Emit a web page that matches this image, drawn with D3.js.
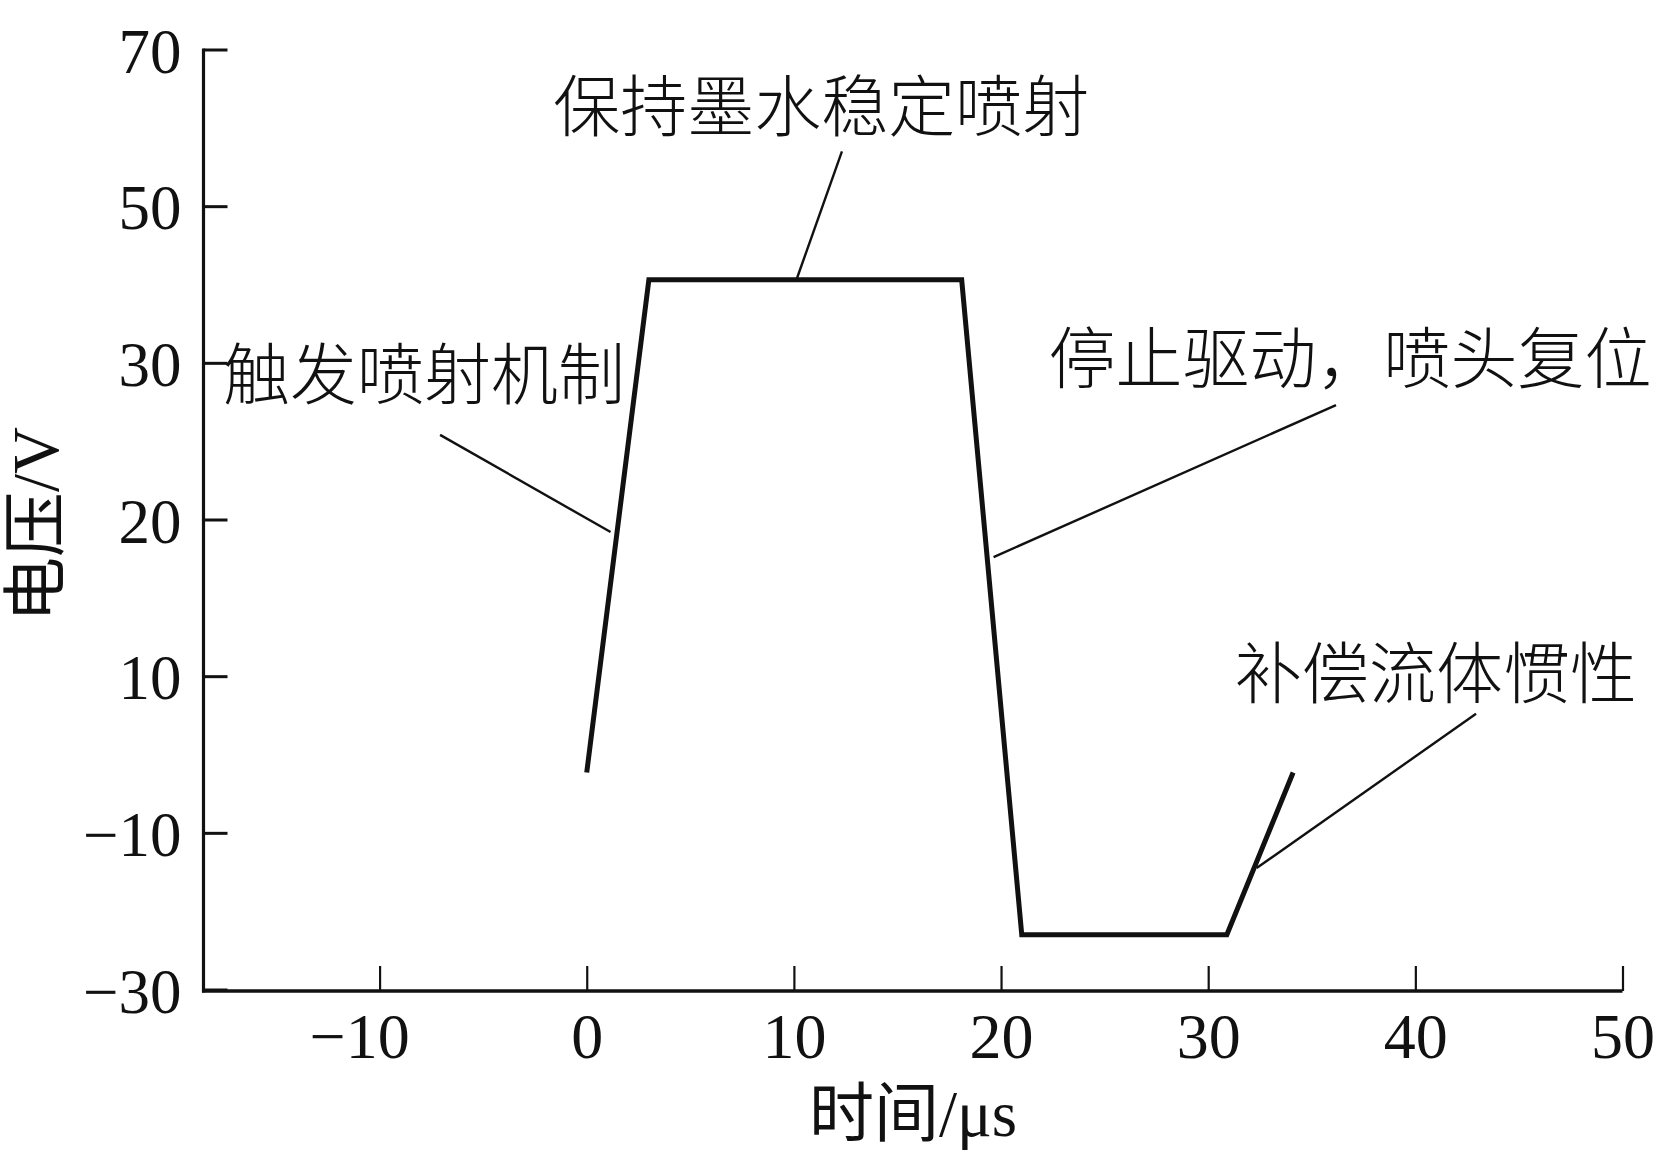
<!DOCTYPE html>
<html>
<head>
<meta charset="utf-8">
<script src="https://cdn.jsdelivr.net/npm/d3@7"></script>
<style>
  html, body { margin: 0; padding: 0; background: #fff; }
  svg { display: block; }
</style>
</head>
<body>
<svg id="chart" width="1654" height="1165"></svg>
<script>
// ---- data ----
const timeUs   = [0, 3, 18.1, 21, 30.9, 34.1];
const voltageV = [-2.3, 40.6, 40.6, -23, -23, -2.3];

const xTicks = [-10, 0, 10, 20, 30, 40, 50];
const yTicks = [-30, -10, 10, 20, 30, 50, 70];   // equally spaced on the axis

const xTitle = "时间/μs";
const yTitle = "电压/V";

// annotation texts, text anchor and leader line (data units)
const annoText  = ["保持墨水稳定喷射", "触发喷射机制", "停止驱动，喷头复位", "补偿流体惯性"];
const annoTextX = [11.32, -7.85, 36.85, 41.0];
const annoTextY = [63.3, 29.6, 31.25, 10.5];
const leadFromX = [12.32, -7.08, 36.17, 42.93];
const leadFromY = [57.0, 25.4, 27.3, 5.2];
const leadToX   = [10.15, 1.15, 19.64, 32.34];
const leadToY   = [40.8, 19.2, 17.6, -14.5];

// ---- layout ----
const svg = d3.select("#chart");
const pLeft = 203.5, pRight = 1622.5, pTop = 49.5, pBottom = 989.5;

const x = d3.scaleLinear().domain([-18.5, 50]).range([pLeft, pRight]);
const step = (pBottom - pTop) / (yTicks.length - 1);
const y = d3.scaleLinear()
  .domain(yTicks)
  .range(yTicks.map((d, i) => pBottom - i * step));

const numFont = "'Liberation Serif', 'Times New Roman', serif";
const cjkFont = "'Liberation Serif', 'Noto Sans CJK SC', serif";
const fmt = d => (d < 0 ? "\u2212" + Math.abs(d) : String(d));

// x axis
const gx = svg.append("g")
  .attr("transform", `translate(0,${pBottom + 1.5})`)
  .call(d3.axisBottom(x).tickValues(xTicks).tickFormat(fmt)
        .tickSizeInner(-25).tickSizeOuter(0).tickPadding(22));
gx.select(".domain").attr("stroke", "#111").attr("stroke-width", 3.5)
  .attr("d", `M${pLeft - 1.5},0H${pRight}`);
gx.selectAll(".tick line").attr("stroke", "#111").attr("stroke-width", 2.2);
gx.selectAll(".tick text").attr("font-family", numFont).attr("font-size", 64)
  .attr("fill", "#111")
  .attr("dx", d => (d < 0 ? "-0.32em" : null));

// y axis
const gy = svg.append("g")
  .attr("transform", `translate(${pLeft},0)`)
  .call(d3.axisLeft(y).tickValues(yTicks).tickFormat(fmt)
        .tickSizeInner(-24).tickSizeOuter(0).tickPadding(22));
gy.select(".domain").attr("stroke", "#111").attr("stroke-width", 3.2)
  .attr("d", `M0,${pTop - 1}V${pBottom + 3}`);
gy.selectAll(".tick line").attr("stroke", "#111").attr("stroke-width", 3);
gy.selectAll(".tick text").attr("font-family", numFont).attr("font-size", 63)
  .attr("fill", "#111").attr("dy", "0.36em");

// axis titles
svg.append("text")
  .attr("x", (pLeft + pRight) / 2).attr("y", 1136)
  .attr("text-anchor", "middle")
  .attr("font-family", cjkFont).attr("font-size", 65).attr("fill", "#111")
  .text(xTitle);

svg.append("text")
  .attr("transform", `translate(58,${(pTop + pBottom) / 2 + 5}) rotate(-90)`)
  .attr("text-anchor", "middle")
  .attr("font-family", cjkFont).attr("font-size", 65).attr("fill", "#111")
  .text(yTitle);

// data line
const pts = timeUs.map((t, i) => [t, voltageV[i]]);
svg.append("path")
  .datum(pts)
  .attr("fill", "none")
  .attr("stroke", "#111")
  .attr("stroke-width", 5)
  .attr("stroke-linejoin", "miter")
  .attr("d", d3.line().x(d => x(d[0])).y(d => y(d[1])));

// annotations
annoText.forEach((t, i) => {
  svg.append("line")
    .attr("x1", x(leadFromX[i])).attr("y1", y(leadFromY[i]))
    .attr("x2", x(leadToX[i])).attr("y2", y(leadToY[i]))
    .attr("stroke", "#111").attr("stroke-width", 2.4);
  svg.append("text")
    .attr("x", x(annoTextX[i])).attr("y", y(annoTextY[i]))
    .attr("text-anchor", "middle")
    .attr("dominant-baseline", "central")
    .attr("font-family", "'Noto Sans CJK SC', sans-serif")
    .attr("font-weight", 300)
    .attr("font-size", 67).attr("fill", "#111")
    .text(t);
});
</script>
</body>
</html>
